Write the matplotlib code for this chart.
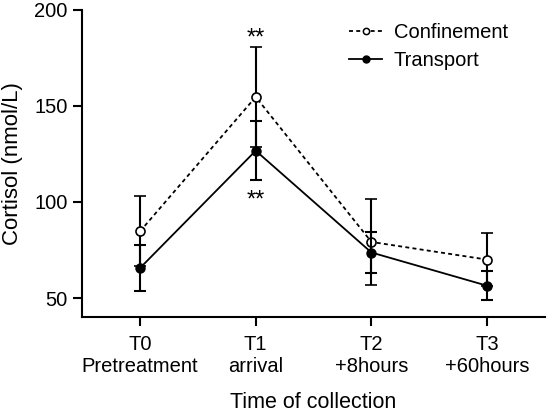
import numpy as np
import matplotlib
matplotlib.use("Agg")
import matplotlib.pyplot as plt
from matplotlib.lines import Line2D

plt.rcParams['font.family'] = ['Liberation Sans', 'DejaVu Sans']

# data
times = ["T0\nPretreatment", "T1\narrival", "T2\n+8hours", "T3\n+60hours"]
conf_mean = [84.7, 154.7, 79.2, 70.0]
conf_err = [18.2, 26.0, 22.5, 13.9]
trans_mean = [65.6, 126.7, 73.7, 56.4]
trans_err = [11.8, 15.4, 10.6, 7.5]

x = np.arange(len(times))

fig = plt.figure(figsize=(5.55, 4.12), dpi=100)
ax = fig.add_axes([0.148, 0.230, 0.834, 0.746])

lw = 1.3
ax.errorbar(x, conf_mean, yerr=conf_err, color='black', linestyle='--', linewidth=lw,
            dashes=(2.2, 1.8), marker='o', markersize=6.5, markerfacecolor='white',
            markeredgewidth=1.2, capsize=4.5, elinewidth=1.5, capthick=1.5, zorder=3)
ax.errorbar(x, trans_mean, yerr=trans_err, color='black', linestyle='-', linewidth=lw,
            marker='o', markersize=6.5, markerfacecolor='black',
            capsize=4.5, elinewidth=1.5, capthick=1.5, zorder=4)

# significance marks at T1
ax.text(x[1], conf_mean[1] + conf_err[1] - 1.5, '**', ha='center', va='bottom', fontsize=17)
ax.text(x[1], trans_mean[1] - trans_err[1] - 5, '**', ha='center', va='top', fontsize=17)

ax.set_xlim(-0.5, 3.5)
ax.set_ylim(40, 200)
ax.set_yticks([50, 100, 150, 200])
ax.set_xticks(x)
ax.set_xticklabels(times)
ax.tick_params(direction='out', length=6.5, width=1.5, labelsize=14.5, pad=4)
ax.tick_params(axis='x', pad=6)
for s in ['top', 'right']:
    ax.spines[s].set_visible(False)
for s in ['left', 'bottom']:
    ax.spines[s].set_linewidth(1.5)

ax.set_ylabel('Cortisol (nmol/L)', fontsize=16, labelpad=8)
ax.set_xlabel('Time of collection', fontsize=15.5, labelpad=12)

handles = [
    Line2D([], [], color='black', linestyle='--', dashes=(2.2, 1.8), linewidth=lw,
           marker='o', markersize=4.5, markerfacecolor='white', markeredgewidth=1.1),
    Line2D([], [], color='black', linestyle='-', linewidth=lw,
           marker='o', markersize=5, markerfacecolor='black'),
]
ax.legend(handles, ['Confinement', 'Transport'], loc='upper left',
          bbox_to_anchor=(0.56, 0.985), frameon=False, fontsize=14.5,
          handlelength=1.6, handletextpad=0.6, borderaxespad=0, labelspacing=0.45)

fig.savefig('out.png', dpi=100)
